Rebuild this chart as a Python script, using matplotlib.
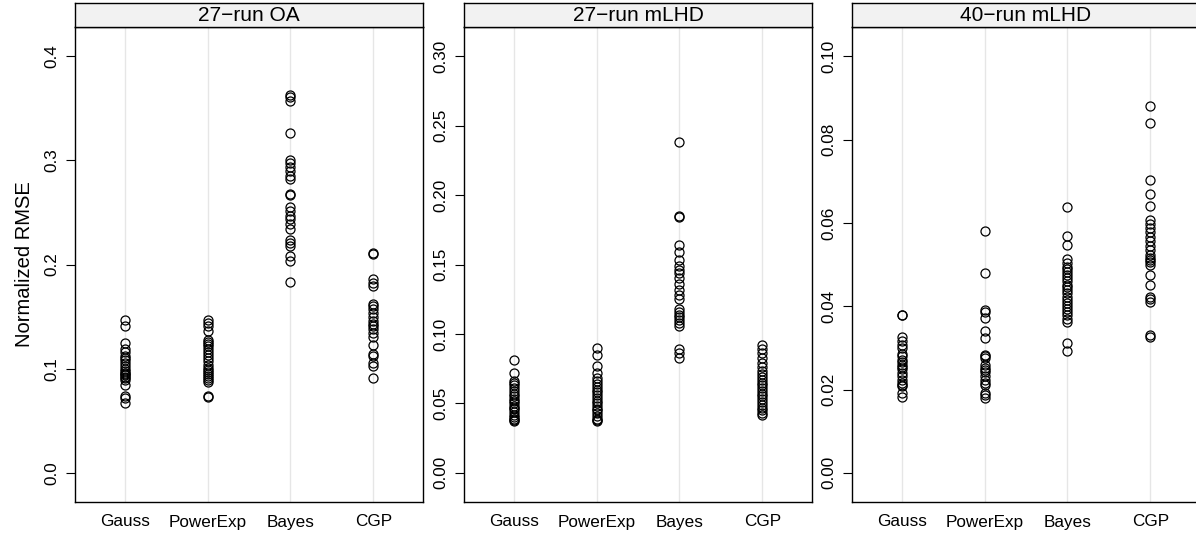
import matplotlib
matplotlib.use("Agg")
import matplotlib.pyplot as plt
from matplotlib.ticker import FormatStrFormatter

plt.rcParams['font.family'] = ['Liberation Sans', 'DejaVu Sans']

methods = ["Gauss", "PowerExp", "Bayes", "CGP"]
panel_titles = ["27\u2212run OA", "27\u2212run mLHD", "40\u2212run mLHD"]

# 27-run OA
oa27_gauss = [0.147, 0.141, 0.125, 0.119, 0.116, 0.112, 0.110, 0.108, 0.105, 0.103, 0.100,
              0.098, 0.096, 0.095, 0.094, 0.092, 0.091, 0.089, 0.084, 0.074, 0.072, 0.067]
oa27_powerexp = [0.147, 0.144, 0.141, 0.136, 0.128, 0.126, 0.124, 0.122, 0.119, 0.116, 0.113,
                 0.110, 0.107, 0.104, 0.101, 0.099, 0.097, 0.095, 0.093, 0.091, 0.089, 0.087,
                 0.074, 0.073]
oa27_bayes = [0.363, 0.361, 0.357, 0.326, 0.300, 0.297, 0.294, 0.290, 0.285, 0.282, 0.268,
              0.267, 0.255, 0.251, 0.247, 0.244, 0.239, 0.234, 0.224, 0.221, 0.218, 0.208,
              0.203, 0.183]
oa27_cgp = [0.211, 0.210, 0.186, 0.182, 0.179, 0.162, 0.160, 0.157, 0.153, 0.150, 0.146,
            0.143, 0.141, 0.138, 0.134, 0.130, 0.123, 0.114, 0.112, 0.105, 0.103, 0.091]

# 27-run mLHD
m27_gauss = [0.081, 0.072, 0.066, 0.065, 0.063, 0.061, 0.059, 0.057, 0.055, 0.053, 0.052,
             0.050, 0.048, 0.047, 0.046, 0.044, 0.042, 0.040, 0.039, 0.038, 0.037]
m27_powerexp = [0.090, 0.085, 0.077, 0.072, 0.068, 0.066, 0.064, 0.062, 0.060, 0.058, 0.056,
                0.054, 0.052, 0.050, 0.048, 0.046, 0.045, 0.043, 0.041, 0.039, 0.038, 0.037]
m27_bayes = [0.238, 0.185, 0.184, 0.164, 0.159, 0.153, 0.149, 0.146, 0.144, 0.140, 0.136,
             0.132, 0.128, 0.125, 0.118, 0.116, 0.114, 0.112, 0.110, 0.108, 0.106, 0.089,
             0.086, 0.083]
m27_cgp = [0.092, 0.089, 0.086, 0.083, 0.079, 0.076, 0.073, 0.071, 0.069, 0.067, 0.065,
           0.063, 0.061, 0.059, 0.057, 0.055, 0.053, 0.051, 0.049, 0.047, 0.045, 0.043, 0.042]

# 40-run mLHD
m40_gauss = [0.0380, 0.0378, 0.0325, 0.0317, 0.0308, 0.0300, 0.0285, 0.0280, 0.0272, 0.0265,
             0.0260, 0.0255, 0.0250, 0.0240, 0.0232, 0.0222, 0.0216, 0.0212, 0.0208, 0.0192,
             0.0182]
m40_powerexp = [0.0580, 0.0480, 0.0392, 0.0385, 0.0372, 0.0340, 0.0323, 0.0283, 0.0280,
                0.0275, 0.0258, 0.0252, 0.0248, 0.0242, 0.0232, 0.0222, 0.0215, 0.0210,
                0.0192, 0.0186, 0.0180]
m40_bayes = [0.0637, 0.0569, 0.0548, 0.0513, 0.0503, 0.0495, 0.0490, 0.0483, 0.0475, 0.0468,
             0.0460, 0.0452, 0.0445, 0.0440, 0.0432, 0.0423, 0.0415, 0.0408, 0.0400, 0.0393,
             0.0385, 0.0378, 0.0370, 0.0363, 0.0311, 0.0292]
m40_cgp = [0.0880, 0.0840, 0.0703, 0.0670, 0.0640, 0.0607, 0.0598, 0.0588, 0.0578, 0.0567,
           0.0557, 0.0545, 0.0535, 0.0522, 0.0515, 0.0510, 0.0505, 0.0498, 0.0474, 0.0450,
           0.0423, 0.0417, 0.0409, 0.0330, 0.0327]

panels = [
    [oa27_gauss, oa27_powerexp, oa27_bayes, oa27_cgp],
    [m27_gauss, m27_powerexp, m27_bayes, m27_cgp],
    [m40_gauss, m40_powerexp, m40_bayes, m40_cgp],
]
y_max = [0.4, 0.3, 0.1]
y_ticks = [[0.0, 0.1, 0.2, 0.3, 0.4],
           [0.00, 0.05, 0.10, 0.15, 0.20, 0.25, 0.30],
           [0.00, 0.02, 0.04, 0.06, 0.08, 0.10]]
y_fmt = ["%.1f", "%.2f", "%.2f"]

W, H = 1196, 533
fig = plt.figure(figsize=(W / 100, H / 100), dpi=100)

lefts = [75, 464, 852]
pw = 348
plot_top, plot_bot = 27, 502
strip_top = 3

for i in range(3):
    ax = fig.add_axes([lefts[i] / W, (H - plot_bot) / H, pw / W, (plot_bot - plot_top) / H])
    for j, vals in enumerate(panels[i]):
        ax.axvline(j + 1, color="#e6e6e6", lw=1.0, zorder=0)
        ax.plot([j + 1] * len(vals), vals, linestyle="none", marker="o", markersize=6.5,
                markerfacecolor="none", markeredgecolor="black", markeredgewidth=0.9, zorder=2)
    m = y_max[i]
    ax.set_xlim(0.4, 4.6)
    ax.set_ylim(-0.07 * m, 1.07 * m)
    ax.set_xticks(range(1, 5))
    ax.set_xticklabels(methods, fontsize=12.3)
    ax.tick_params(axis="x", length=0, pad=9)
    ax.set_yticks(y_ticks[i])
    ax.yaxis.set_major_formatter(FormatStrFormatter(y_fmt[i]))
    ax.tick_params(axis="y", length=6.5, width=0.8, pad=5, labelsize=12.3)
    for lab in ax.get_yticklabels():
        lab.set_rotation(90)
        lab.set_va("center")
    for s in ax.spines.values():
        s.set_linewidth(1.0)

    sax = fig.add_axes([lefts[i] / W, (H - plot_top) / H, pw / W, (plot_top - strip_top) / H])
    sax.set_facecolor("#f2f2f2")
    sax.set_xticks([])
    sax.set_yticks([])
    for s in sax.spines.values():
        s.set_linewidth(1.0)
    sax.text(0.5, 0.47, panel_titles[i], ha="center", va="center", fontsize=15,
             transform=sax.transAxes)

fig.text(25 / W, (H - (plot_top + plot_bot) / 2) / H, "Normalized RMSE", rotation=90,
         ha="center", va="center", fontsize=14.5)

fig.savefig("out.png", dpi=100)
